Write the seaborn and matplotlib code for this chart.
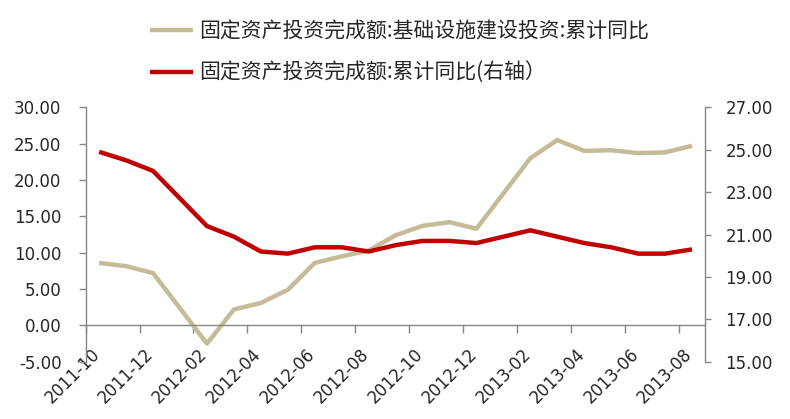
import matplotlib
matplotlib.use('Agg')
import matplotlib.pyplot as plt
import matplotlib.transforms as mtransforms
import seaborn as sns
import pandas as pd

# monthly data (no January releases)
months = ['2011-10', '2011-11', '2011-12',
          '2012-02', '2012-03', '2012-04', '2012-05', '2012-06', '2012-07',
          '2012-08', '2012-09', '2012-10', '2012-11', '2012-12',
          '2013-02', '2013-03', '2013-04', '2013-05', '2013-06', '2013-07', '2013-08']
infra_yoy = [8.6, 8.15, 7.2,
             -2.5, 2.2, 3.1, 4.9, 8.6, 9.5,
             10.3, 12.4, 13.7, 14.2, 13.3,
             23.0, 25.5, 24.0, 24.1, 23.7, 23.8, 24.7]
fai_yoy = [24.9, 24.5, 24.0,
           21.4, 20.9, 20.2, 20.1, 20.4, 20.4,
           20.2, 20.5, 20.7, 20.7, 20.6,
           21.2, 20.9, 20.6, 20.4, 20.1, 20.1, 20.3]

axis_months = pd.period_range('2011-10', '2013-08', freq='M')
tick_labels = [str(p) for p in axis_months[::2]]

label_infra = '固定资产投资完成额:基础设施建设投资:累计同比'
label_fai = '固定资产投资完成额:累计同比(右轴）'

df = pd.DataFrame({'month': pd.PeriodIndex(months, freq='M'),
                   'infra': infra_yoy, 'fai': fai_yoy})
df['pos'] = [(p - axis_months[0]).n for p in df['month']]

sns.set_style('ticks')
plt.rcParams['font.family'] = ['DejaVu Sans', 'Noto Sans CJK SC']

beige = '#C4BC96'
red = '#C00000'
grey = '#868686'

fig = plt.figure(figsize=(7.9, 4.19), dpi=100)
ax = fig.add_axes([0.1085, 0.1365, 0.7845, 0.6074])
ax2 = ax.twinx()

sns.lineplot(data=df, x='pos', y='infra', ax=ax, color=beige, linewidth=3.2,
             label=label_infra, legend=False)
sns.lineplot(data=df, x='pos', y='fai', ax=ax2, color=red, linewidth=3.2,
             label=label_fai, legend=False)
for line in ax.lines + ax2.lines:
    line.set_solid_joinstyle('round')
    line.set_solid_capstyle('butt')

n = len(axis_months)
ax.set_xlim(-0.5, n - 0.5)
ax.set_ylim(-5, 30)
ax2.set_ylim(15, 27)
ax.set_yticks(range(-5, 31, 5))
ax.set_yticklabels([f'{v:.2f}' for v in range(-5, 31, 5)])
ax2.set_yticks(range(15, 28, 2))
ax2.set_yticklabels([f'{v:.2f}' for v in range(15, 28, 2)])

# category boundaries as tick marks, month labels in between
ax.set_xticks([k - 0.5 for k in range(0, n, 2)])
ax.set_xticklabels([''] * len(range(0, n, 2)))
ax.set_xticks(list(range(0, n, 2)), minor=True)
ax.set_xticklabels(tick_labels, minor=True)
ax.tick_params(axis='x', which='major', direction='out', length=5.5, width=1, color=grey)
ax.tick_params(axis='x', which='minor', length=0, pad=14, labelsize=12, labelrotation=45)

ax.tick_params(axis='y', direction='out', length=5, width=1, color=grey, pad=12.5, labelsize=12)
ax2.tick_params(axis='y', direction='out', length=4.5, width=1, color=grey, pad=10, labelsize=12)

ax.set_xlabel('')
ax.set_ylabel('')
ax2.set_ylabel('')

ax.spines['bottom'].set_position(('data', 0))
ax.spines['top'].set_visible(False)
ax.spines['right'].set_visible(False)
ax2.spines['top'].set_visible(False)
ax2.spines['bottom'].set_visible(False)
ax2.spines['left'].set_visible(False)
for sp in [ax.spines['bottom'], ax.spines['left'], ax2.spines['right']]:
    sp.set_color(grey)
    sp.set_linewidth(1)

handles = ax.get_lines()[:1] + ax2.get_lines()[:1]
fig.legend(handles, [label_infra, label_fai], loc='upper left',
           bbox_to_anchor=(150 / 790, 1 - 20 / 419), frameon=False,
           borderpad=0, borderaxespad=0, handlelength=2.05, handletextpad=0.3,
           labelspacing=0.95, prop={'family': ['Noto Sans CJK SC', 'DejaVu Sans'], 'size': 15})

fig.canvas.draw()
offset = mtransforms.ScaledTranslation(0.04, 0, fig.dpi_scale_trans)
for lab in ax.xaxis.get_minorticklabels():
    lab.set_horizontalalignment('right')
    lab.set_transform(lab.get_transform() + offset)

fig.savefig('out.png', dpi=100)
